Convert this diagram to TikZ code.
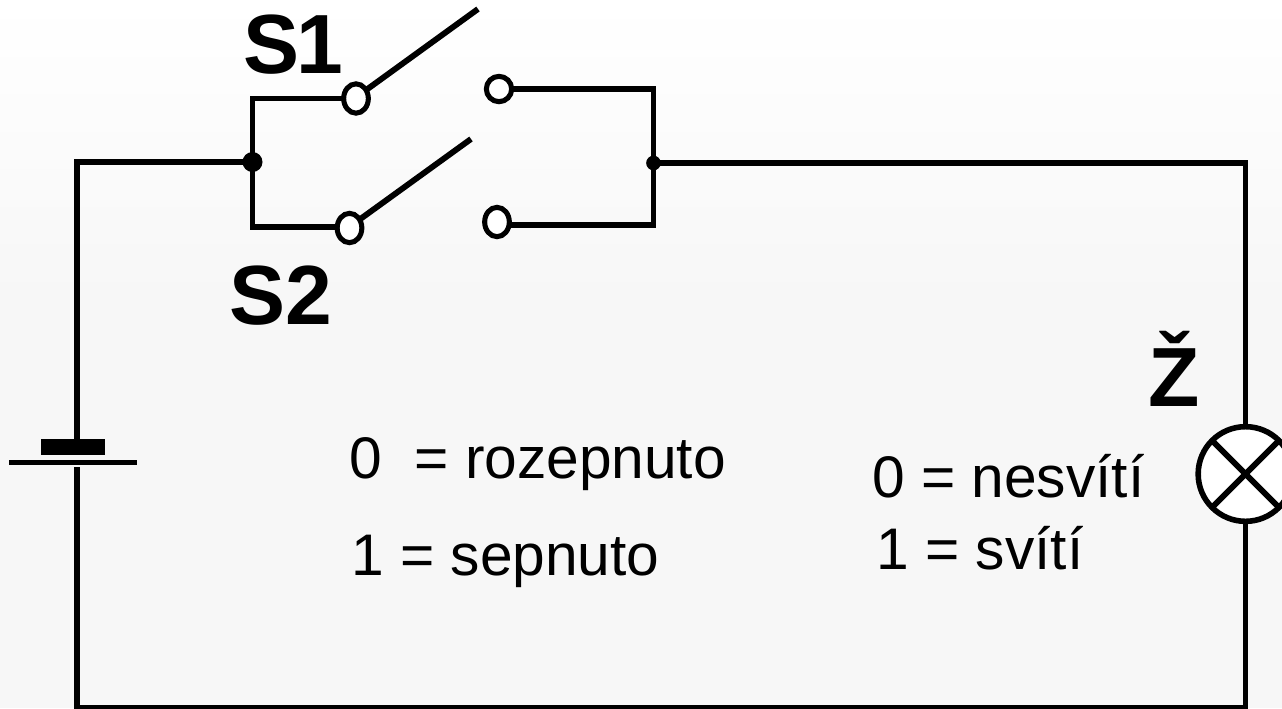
\documentclass[tikz,border=0pt]{standalone}
\usepackage{fontspec}
\setmainfont{Liberation Sans}
\usetikzlibrary{shapes.geometric}
\definecolor{bggray}{RGB}{247,247,247}
\tikzset{
	wire/.style={line width=4.4pt, line cap=butt},
	contact/.style={draw, ellipse, line width=3.8pt, fill=white, inner sep=0pt, outer sep=0pt},
	junction/.style={circle, fill=black, inner sep=0pt, outer sep=0pt},
	lamp/.style={draw, circle, line width=4.2pt, fill=white, inner sep=0pt, outer sep=0pt, minimum size=71pt},
	biglabel/.style={anchor=base west, inner sep=0pt, font=\fontsize{63}{63}\selectfont\bfseries},
	notelabel/.style={anchor=base west, inner sep=0pt, font=\fontsize{44}{44}\selectfont},
}
\begin{document}
\begin{tikzpicture}[x=.75pt,y=-.75pt]
	\useasboundingbox (0,0) rectangle (1282,708);
	\clip (0,0) rectangle (1282,708);
	\shade [top color=white, bottom color=bggray] (0,0) rectangle (1282,300);
	\fill [bggray] (0,300) rectangle (1282,708);

	% switches
	\node (s1a) [contact, minimum width=18.5pt, minimum height=22pt] at (356,98.5) {};
	\node (s1b) [contact, minimum width=19pt, minimum height=19pt] at (499,89) {};
	\node (s2a) [contact, minimum width=18.5pt, minimum height=22pt] at (349.5,228) {};
	\node (s2b) [contact, minimum width=18.5pt, minimum height=22pt] at (497,222) {};
	\coordinate (s1end) at (478,9);
	\coordinate (s2end) at (471,139);
	\node (jleft) [junction, minimum size=15pt] at (252.5,162) {};
	\node (jright) [junction, minimum size=11pt] at (653.5,163) {};
	\coordinate (lefttop) at (77,162);
	\coordinate (righttop) at (1245.5,163);
	\coordinate (leftbot) at (77,708);
	\coordinate (rightbot) at (1245.5,708);

	\draw [wire] (s1a.west) -| (jleft.center) |- (s2a.175);
	\draw [wire] (s1b.east) -| (jright.center) |- (s2b.-12);
	\draw [wire] (s1a.40) -- (s1end);
	\draw [wire] (s2a.40) -- (s2end);

	% battery
	\node (cellneg) [fill=black, inner sep=0pt, minimum width=48pt, minimum height=12pt] at (73,447) {};
	\node (cellpos) [fill=black, inner sep=0pt, minimum width=96pt, minimum height=4pt] at (73,462.5) {};

	% lamp
	\node (bulb) [lamp] at (1245.5,474) {};
	\draw [wire] (bulb.45) -- (bulb.225);
	\draw [wire] (bulb.135) -- (bulb.315);

	\draw [wire] (jleft.center) -- (lefttop) -- (cellneg.north -| lefttop);
	\draw [wire] (cellpos.south -| leftbot) ++(0,2) -- (leftbot) -- (rightbot) -- (bulb.south);
	\draw [wire] (jright.center) -- (righttop) -- (bulb.north);

	% labels
	\node (labs1) [biglabel] at (243,73) {S\kern-2.5pt 1};
	\node (labs2) [biglabel] at (229,324) {S2};
	\node (labz) [biglabel] at (1148,406) {Ž};
	\node (off1) [notelabel] at (349,478) {0\ \ = rozepnuto};
	\node (on1) [notelabel] at (351,575) {1 = sepnuto};
	\node (off2) [notelabel] at (872,497) {0 = nesvítí};
	\node (on2) [notelabel] at (876,569) {1 = svítí};
\end{tikzpicture}
\end{document}
